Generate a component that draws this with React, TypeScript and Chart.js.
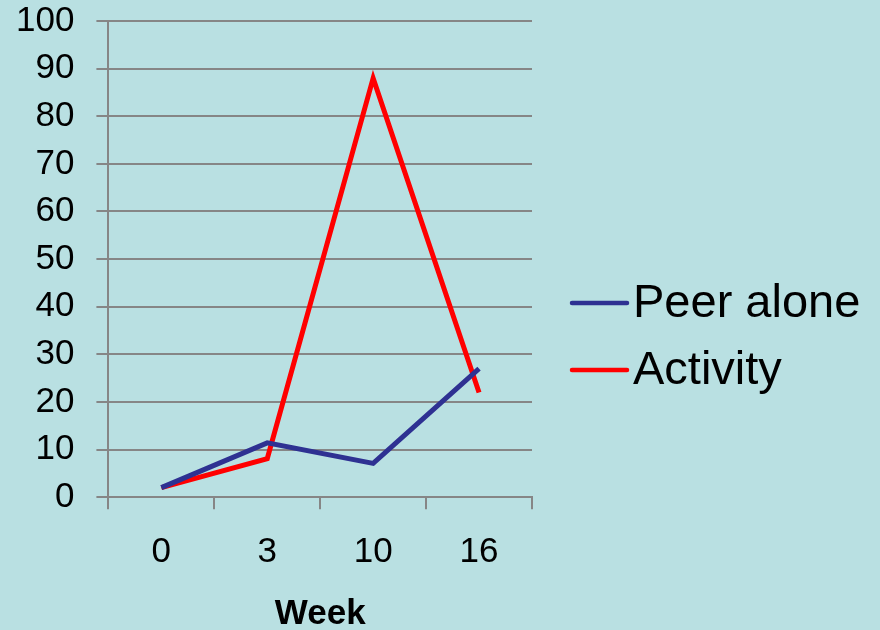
import React, { useEffect, useRef } from "react";
import { Chart, registerables } from "chart.js";

Chart.register(...registerables);

// Weeks on the x axis and the two series plotted against them
const weeks = ["0", "3", "10", "16"];
const peerAlone = [2, 11.4, 7.1, 27];
const activity = [2, 8.1, 88, 22];
const yTicks = [0, 10, 20, 30, 40, 50, 60, 70, 80, 90, 100];

const BG = "#b9e0e2";
const GRID = "#868686";
const FONT = "'Liberation Sans', Arial, sans-serif";

// Legend drawn to the right of the plot: a short line sample and the series name
const sideLegend = {
  id: "sideLegend",
  afterDraw(chart: any) {
    const { ctx, chartArea } = chart;
    const x0 = chartArea.right + 40;
    const sample = 55;
    const gap = 6;
    const rowGap = 67;
    const firstY = chartArea.top + (chartArea.bottom - chartArea.top) * 0.592;
    ctx.save();
    ctx.font = `47px ${FONT}`;
    ctx.textBaseline = "middle";
    ctx.textAlign = "left";
    chart.data.datasets.forEach((ds: any, i: number) => {
      const y = firstY + i * rowGap;
      ctx.strokeStyle = ds.borderColor;
      ctx.lineWidth = 4.5;
      ctx.lineCap = "round";
      ctx.beginPath();
      ctx.moveTo(x0, y);
      ctx.lineTo(x0 + sample, y);
      ctx.stroke();
      ctx.fillStyle = "#000000";
      ctx.fillText(ds.label, x0 + sample + gap, y + 1);
    });
    ctx.restore();
  },
};

export default function App() {
  const canvasRef = useRef<HTMLCanvasElement | null>(null);

  useEffect(() => {
    const canvas = canvasRef.current;
    if (!canvas) return;
    const chart = new Chart(canvas, {
      type: "line",
      data: {
        labels: weeks,
        datasets: [
          {
            label: "Peer alone",
            data: peerAlone,
            borderColor: "#2e3192",
            backgroundColor: "#2e3192",
            borderWidth: 5,
            pointRadius: 0,
            tension: 0,
          },
          {
            label: "Activity",
            data: activity,
            borderColor: "#ff0000",
            backgroundColor: "#ff0000",
            borderWidth: 5,
            pointRadius: 0,
            tension: 0,
          },
        ],
      },
      plugins: [sideLegend],
      options: {
        animation: false,
        responsive: false,
        layout: { padding: { left: -6, right: 348, top: 21, bottom: 0 } },
        plugins: {
          tooltip: { enabled: false },
          legend: { display: false },
        },
        scales: {
          x: {
            offset: true,
            grid: {
              display: true,
              offset: true,
              drawOnChartArea: false,
              drawTicks: true,
              tickLength: 12,
              color: GRID,
              lineWidth: 2,
            },
            border: { display: true, color: GRID, width: 2 },
            ticks: {
              color: "#000000",
              padding: 22,
              font: { family: FONT, size: 35 },
            },
            title: {
              display: true,
              text: "Week",
              color: "#000000",
              padding: { top: 4, bottom: 0 },
              font: { family: FONT, size: 35, weight: "bold", lineHeight: 0.88 },
            },
          },
          y: {
            min: 0,
            max: 100,
            afterBuildTicks: (axis: any) => {
              axis.ticks = yTicks.map((v) => ({ value: v }));
            },
            afterFit: (axis: any) => {
              axis.paddingTop = 0;
              axis.paddingBottom = 0;
            },
            grid: {
              color: GRID,
              lineWidth: 2,
              drawTicks: true,
              tickLength: 12,
            },
            border: { display: true, color: GRID, width: 2 },
            ticks: {
              autoSkip: false,
              color: "#000000",
              padding: 22,
              font: { family: FONT, size: 35 },
            },
          },
        },
      },
    });
    return () => chart.destroy();
  }, []);

  return (
    <div
      style={{
        position: "fixed",
        left: 0,
        top: 0,
        width: 880,
        height: 630,
        background: BG,
      }}
    >
      <canvas ref={canvasRef} width={880} height={630} />
    </div>
  );
}
